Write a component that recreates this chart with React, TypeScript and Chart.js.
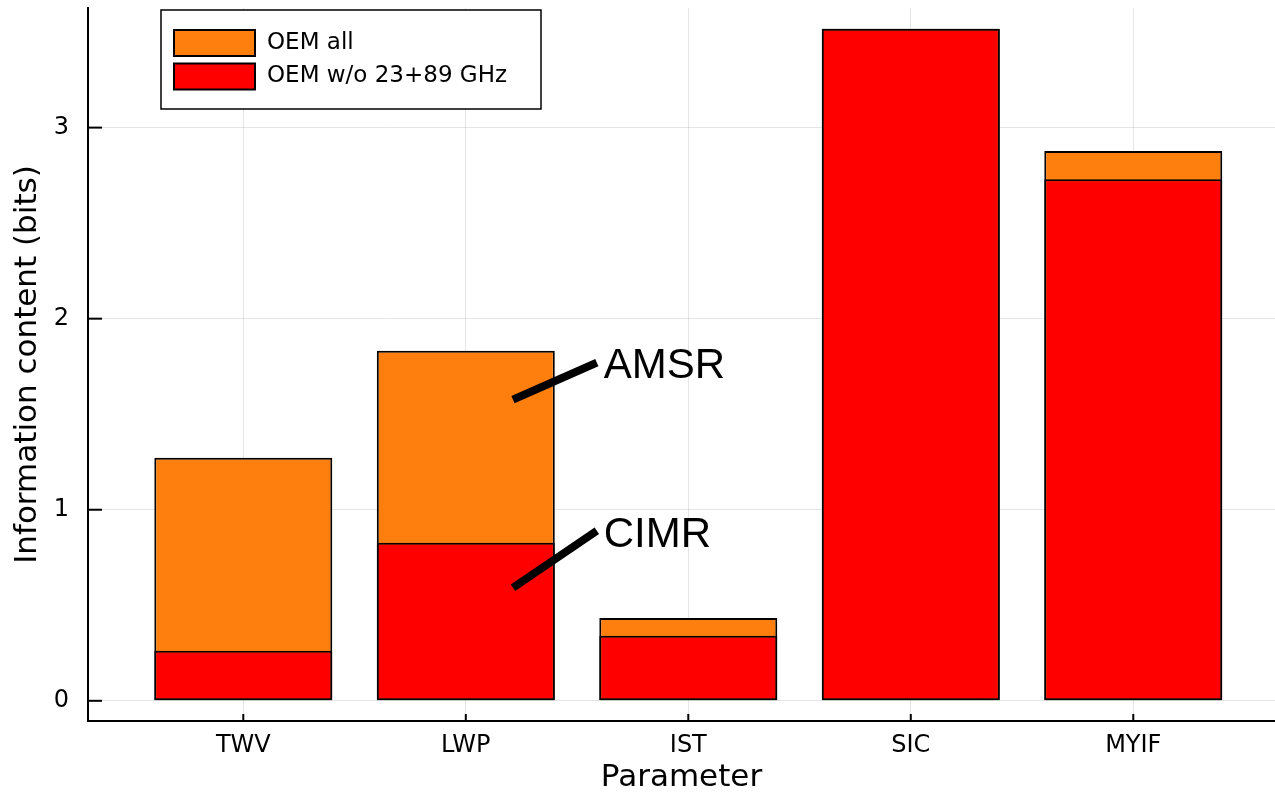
import React, { useEffect, useRef } from 'react';
import { Chart, registerables } from 'chart.js';

Chart.register(...registerables);

// ---- data ----
const categories = ['TWV', 'LWP', 'IST', 'SIC', 'MYIF'];
const seriesLabels = ['OEM all', 'OEM w/o 23+89 GHz'];
const oemAll = [1.272, 1.832, 0.434, 3.517, 2.878];
const oemWithout2389 = [0.262, 0.827, 0.34, 3.517, 2.73];
const yTicks = [0, 1, 2, 3];
const xLimits = [0.302, 5.637];
const yLimits = [-0.1057, 3.626];
const annotationTexts = ['AMSR', 'CIMR'];
const annotationFrom = [
  [2.212, 1.576],
  [2.212, 0.592],
];
const annotationTo = [
  [2.589, 1.77],
  [2.589, 0.89],
];
const annotationTextAt = [
  [2.62, 1.691],
  [2.62, 0.806],
];

const seriesColors = ['#ff7f0e', '#ff0000'];
const FONT = "'DejaVu Sans', sans-serif";

const overlayPlugin = {
  id: 'overlay',
  afterDraw(chart: any) {
    const { ctx, chartArea } = chart;
    const xs = chart.scales.x;
    const ys = chart.scales.y;
    ctx.save();
    const line = (x1: number, y1: number, x2: number, y2: number) => {
      ctx.beginPath();
      ctx.moveTo(x1, y1);
      ctx.lineTo(x2, y2);
      ctx.stroke();
    };
    // inward tick marks
    ctx.strokeStyle = '#000';
    ctx.lineWidth = 2;
    yTicks.forEach((v) => {
      const py = ys.getPixelForValue(v);
      line(chartArea.left, py, chartArea.left + 14, py);
    });
    categories.forEach((_, i) => {
      const px = xs.getPixelForValue(i + 1);
      line(px, chartArea.bottom, px, chartArea.bottom - 7);
    });

    // annotations
    ctx.lineWidth = 8;
    ctx.lineCap = 'butt';
    annotationTexts.forEach((t, i) => {
      line(
        xs.getPixelForValue(annotationFrom[i][0]),
        ys.getPixelForValue(annotationFrom[i][1]),
        xs.getPixelForValue(annotationTo[i][0]),
        ys.getPixelForValue(annotationTo[i][1])
      );
      ctx.fillStyle = '#000';
      ctx.font = "42px 'Liberation Sans', Arial, sans-serif";
      ctx.textAlign = 'left';
      ctx.textBaseline = 'alphabetic';
      ctx.fillText(
        t,
        xs.getPixelForValue(annotationTextAt[i][0]),
        ys.getPixelForValue(annotationTextAt[i][1])
      );
    });

    // legend
    const bx = chartArea.left + 73;
    const by = chartArea.top + 2;
    ctx.fillStyle = '#fff';
    ctx.fillRect(bx, by, 380, 99);
    ctx.strokeStyle = '#000';
    ctx.lineWidth = 1.5;
    ctx.strokeRect(bx, by, 380, 99);
    chart.data.datasets
      .slice()
      .sort((a: any, b: any) => b.order - a.order)
      .forEach((ds: any, i: number) => {
        const py = by + 20 + i * 33.5;
        ctx.fillStyle = ds.backgroundColor;
        ctx.fillRect(bx + 13, py, 81, 26);
        ctx.lineWidth = 2;
        ctx.strokeStyle = '#000';
        ctx.strokeRect(bx + 13, py, 81, 26);
        ctx.fillStyle = '#000';
        ctx.font = `23px ${FONT}`;
        ctx.textAlign = 'left';
        ctx.textBaseline = 'middle';
        ctx.fillText(ds.label, bx + 106, py + 13);
      });
    ctx.restore();
  },
};

export default function App() {
  const ref = useRef<HTMLCanvasElement>(null);
  useEffect(() => {
    if (!ref.current) return;
    const chart = new Chart(ref.current, {
      type: 'bar',
      data: {
        datasets: [
          {
            label: seriesLabels[0],
            data: oemAll.map((v, i) => ({ x: i + 1, y: v })),
            backgroundColor: seriesColors[0],
            borderColor: '#000',
            borderWidth: 2,
            borderSkipped: false,
            order: 2,
          },
          {
            label: seriesLabels[1],
            data: oemWithout2389.map((v, i) => ({ x: i + 1, y: v })),
            backgroundColor: seriesColors[1],
            borderColor: '#000',
            borderWidth: 2,
            borderSkipped: false,
            order: 1,
          },
        ],
      },
      options: {
        animation: false,
        responsive: false,
        devicePixelRatio: 1,
        layout: { padding: { top: 8, right: 0, left: 0, bottom: 0 } },
        datasets: {
          bar: { grouped: false, barPercentage: 0.8, categoryPercentage: 1 },
        },
        plugins: {
          legend: { display: false },
          tooltip: { enabled: false },
        },
        scales: {
          x: {
            type: 'linear',
            offset: false,
            min: xLimits[0],
            max: xLimits[1],
            afterBuildTicks: (scale: any) => {
              scale.ticks = categories.map((_, i) => ({ value: i + 1 }));
            },
            afterFit: (scale: any) => {
              scale.height = 74;
              scale.paddingLeft = 0;
              scale.paddingRight = 0;
            },
            ticks: {
              autoSkip: false,
              maxRotation: 0,
              padding: 10,
              color: '#000',
              font: { family: FONT, size: 24 },
              callback: (v: any) => categories[Math.round(v) - 1] ?? '',
            },
            grid: { color: 'rgba(0,0,0,0.1)', lineWidth: 1, drawTicks: false, offset: false },
            border: { display: true, color: '#000', width: 2 },
            title: {
              display: true,
              text: 'Parameter',
              color: '#000',
              font: { family: FONT, size: 31, lineHeight: 1.1 },
              padding: { top: 0, bottom: 0 },
            },
          },
          y: {
            type: 'linear',
            min: yLimits[0],
            max: yLimits[1],
            afterBuildTicks: (scale: any) => {
              scale.ticks = yTicks.map((v) => ({ value: v }));
            },
            afterFit: (scale: any) => {
              scale.width = 88;
              scale.paddingTop = 0;
              scale.paddingBottom = 0;
            },
            ticks: {
              padding: 19,
              color: '#000',
              font: { family: FONT, size: 24 },
              callback: (v: any) => String(v),
            },
            grid: { color: 'rgba(0,0,0,0.1)', lineWidth: 1, drawTicks: false },
            border: { display: true, color: '#000', width: 2 },
            title: {
              display: true,
              text: 'Information content (bits)',
              color: '#000',
              font: { family: FONT, size: 31, lineHeight: 1.2 },
              padding: { top: 9, bottom: 0 },
            },
          },
        },
      } as any,
      plugins: [overlayPlugin],
    });
    return () => chart.destroy();
  }, []);
  return (
    <div style={{ position: 'absolute', left: 0, top: 0, width: 1275, height: 795, background: '#fff' }}>
      <canvas ref={ref} width={1275} height={795} style={{ display: 'block' }} />
    </div>
  );
}
